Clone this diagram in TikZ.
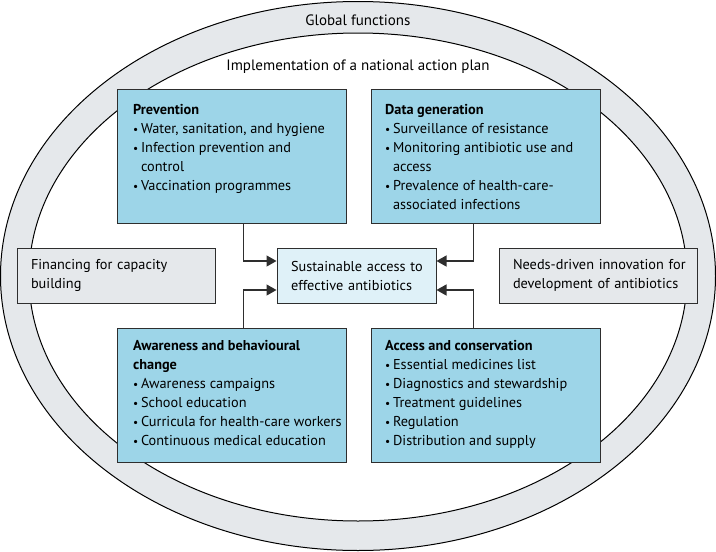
\documentclass[tikz,border=0pt]{standalone}
\usepackage{fontspec}
\setmainfont{PT Sans}
\usetikzlibrary{arrows.meta,positioning,calc}
\definecolor{ringgray}{HTML}{E5E8EB}
\definecolor{pillarblue}{HTML}{9DD5E8}
\definecolor{coreblue}{HTML}{DFF1F8}
\definecolor{sidegray}{HTML}{E5E8EB}
\definecolor{edge}{HTML}{2E2E2E}
\newcommand{\bitem}{\makebox[0.55em][l]{\scalebox{0.8}{\textbullet}}}
\newcommand{\bcont}{\hspace*{0.55em}}

\begin{document}
\begin{tikzpicture}[x=1pt,y=-1pt,
  font=\fontsize{14.3}{19}\selectfont,
  pillar/.style={draw=edge,line width=1pt,fill=pillarblue,minimum width=229pt,minimum height=134pt,anchor=north west,inner sep=0pt},
  pillartext/.style={anchor=north west,align=left,inner sep=0pt},
  sidebox/.style={draw=edge,line width=1pt,fill=sidegray,minimum width=198pt,minimum height=55pt,text width=170pt,align=left,inner sep=0pt},
  flow/.style={draw=edge,line width=1.3pt,-{Triangle[length=10pt,width=11pt]}}]

  \useasboundingbox (0,0) rectangle (716,552);

  % Rings
  \draw[fill=ringgray,line width=1pt] (358,276) ellipse [x radius=357.5,y radius=274.5];
  \draw[fill=white,line width=1pt] (358,277) ellipse [x radius=329,y radius=244];
  \node[font=\fontsize{15}{19}\selectfont] (global) at (358,20) {Global functions};
  \node[font=\fontsize{15}{19}\selectfont] (nap) at (358,67) {Implementation of a national action plan};

  % Four pillars
  \node[pillar] (prev) at (117,89) {};
  \node[pillar] (data) at (371,89) {};
  \node[pillar] (aware) at (117,328) {};
  \node[pillar] (acc) at (371,328) {};

  \node[pillartext] (prevtxt) at ([shift={(16pt,-15pt)}]prev.north west) {%
    \textbf{Prevention}\\
    \bitem Water, sanitation, and hygiene\\
    \bitem Infection prevention and\\
    \bcont control\\
    \bitem Vaccination programmes};
  \node[pillartext] (datatxt) at ([shift={(14pt,-15pt)}]data.north west) {%
    \textbf{Data generation}\\
    \bitem Surveillance of resistance\\
    \bitem Monitoring antibiotic use and\\
    \bcont access\\
    \bitem Prevalence of health-care-\\
    \bcont associated infections};
  \node[pillartext] (awaretxt) at ([shift={(16pt,-12pt)}]aware.north west) {%
    \textbf{Awareness and behavioural}\\
    \textbf{change}\\
    \bitem Awareness campaigns\\
    \bitem School education\\
    \bitem Curricula for health-care workers\\
    \bitem Continuous medical education};
  \node[pillartext] (acctxt) at ([shift={(14pt,-12pt)}]acc.north west) {%
    \textbf{Access and conservation}\\
    \bitem Essential medicines list\\
    \bitem Diagnostics and stewardship\\
    \bitem Treatment guidelines\\
    \bitem Regulation\\
    \bitem Distribution and supply};

  % Centre and side boxes
  \node[draw=edge,line width=1pt,fill=coreblue,minimum width=159pt,minimum height=55pt,text width=131pt,align=left,inner sep=0pt] (core) at (356.5,275.5) {\mbox{Sustainable access to}\\\mbox{effective antibiotics}};
  \node[sidebox] (finance) at (116,275.5) {\mbox{Financing for capacity}\\\mbox{building}};
  \node[sidebox] (innov) at (598,275.5) {\mbox{Needs-driven innovation for}\\\mbox{development of antibiotics}};

  % Arrows
  \draw[flow] ([xshift=11.5pt]prev.south) |- ([yshift=14.5pt]core.west);
  \draw[flow] ([xshift=-12.5pt]data.south) |- ([yshift=14.5pt]core.east);
  \draw[flow] ([xshift=11.5pt]aware.north) |- ([yshift=-14.5pt]core.west);
  \draw[flow] ([xshift=-12.5pt]acc.north) |- ([yshift=-14.5pt]core.east);
\end{tikzpicture}
\end{document}
